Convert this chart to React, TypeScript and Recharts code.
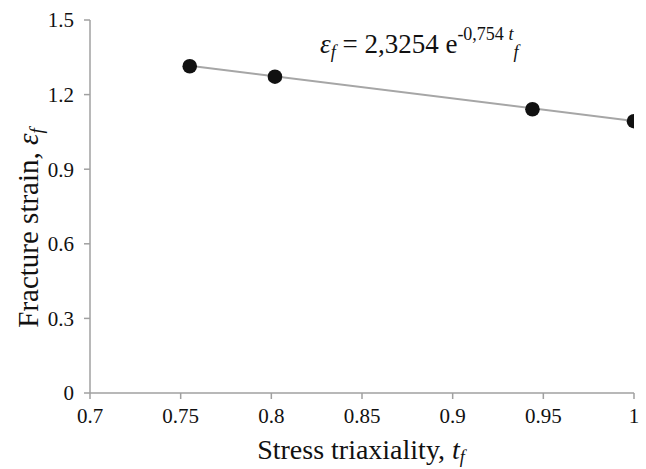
import React from 'react';
import { ComposedChart, XAxis, YAxis, Scatter, Line, Label } from 'recharts';

const triaxiality = [0.755, 0.802, 0.944, 1.0];
const fractureStrain = [1.314, 1.272, 1.141, 1.093];
const trendX = [0.755, 1.0];
const trendY = [1.316, 1.094];
const xTicks = [0.7, 0.75, 0.8, 0.85, 0.9, 0.95, 1];
const yTicks = [0, 0.3, 0.6, 0.9, 1.2, 1.5];

const points = triaxiality.map((x, i) => ({ x, y: fractureStrain[i] }));
const trend = trendX.map((x, i) => ({ x, y: trendY[i] }));

const FONT = "'Liberation Serif', 'Times New Roman', serif";
const AXIS = '#a0a0a0';
const TEXT = '#111111';

const Dot = (props: any) => {
  const { cx, cy } = props;
  if (cx == null || cy == null) return null;
  return <circle cx={cx} cy={cy} r={7.3} fill="#111111" />;
};

const XTick = (props: any) => {
  const { x, y, payload } = props;
  return (
    <text x={x} y={y} dy="0.68em" textAnchor="middle" fontFamily={FONT} fontSize={21} fill={TEXT}>
      {String(payload.value)}
    </text>
  );
};

const YTick = (props: any) => {
  const { x, y, payload } = props;
  return (
    <text x={x} y={y} dy="0.35em" textAnchor="end" fontFamily={FONT} fontSize={21} fill={TEXT}>
      {String(payload.value)}
    </text>
  );
};

export default function App() {
  return (
    <div style={{ position: 'absolute', left: 0, top: 0, width: 646, height: 469, background: '#fff', fontFamily: FONT }}>
      <ComposedChart width={646} height={469} margin={{ top: 20, right: 12, bottom: 36, left: 30 }} style={{ fontFamily: FONT }}>
        <XAxis
          type="number"
          dataKey="x"
          domain={[0.7, 1]}
          ticks={xTicks}
          allowDataOverflow
          stroke={AXIS}
          strokeWidth={1.5}
          tickSize={6}
          tickMargin={10}
          height={40}
          tick={<XTick />}
        >
          <Label
            content={() => (
              <text x={361} y={459} textAnchor="middle" fontFamily={FONT} fontSize={28} fill={TEXT}>
                Stress triaxiality, <tspan fontStyle="italic">t</tspan>
                <tspan fontStyle="italic" fontSize={18} dy={4}>f</tspan>
              </text>
            )}
          />
        </XAxis>
        <YAxis
          type="number"
          dataKey="y"
          domain={[0, 1.5]}
          ticks={yTicks}
          allowDataOverflow
          stroke={AXIS}
          strokeWidth={1.5}
          tickSize={6}
          tickMargin={10}
          width={60}
          tick={<YTick />}
        >
          <Label
            content={() => (
              <g>
                <text x={38} y={228} transform="rotate(-90 38 228)" textAnchor="middle" fontFamily={FONT} fontSize={29} fill={TEXT}>
                  Fracture strain, <tspan fontStyle="italic">ε</tspan>
                  <tspan fontStyle="italic" fontSize={19} dy={5}>f</tspan>
                </text>
                <text x={320} y={53} fontFamily={FONT} fontSize={27} fill={TEXT}>
                  <tspan fontStyle="italic">ε</tspan>
                  <tspan fontStyle="italic" fontSize={18} dy={5}>f</tspan>
                  <tspan dy={-5}> = 2,3254 e</tspan>
                  <tspan fontSize={18} dy={-13}>-0,754 </tspan>
                  <tspan fontStyle="italic" fontSize={18}>t</tspan>
                  <tspan fontStyle="italic" fontSize={18} dy={18}>f</tspan>
                </text>
              </g>
            )}
          />
        </YAxis>
        <Line
          data={trend}
          dataKey="y"
          stroke="#a6a6a6"
          strokeWidth={2}
          dot={false}
          activeDot={false}
          isAnimationActive={false}
          legendType="none"
        />
        <Scatter data={points} dataKey="y" shape={Dot} isAnimationActive={false} />
      </ComposedChart>
    </div>
  );
}
